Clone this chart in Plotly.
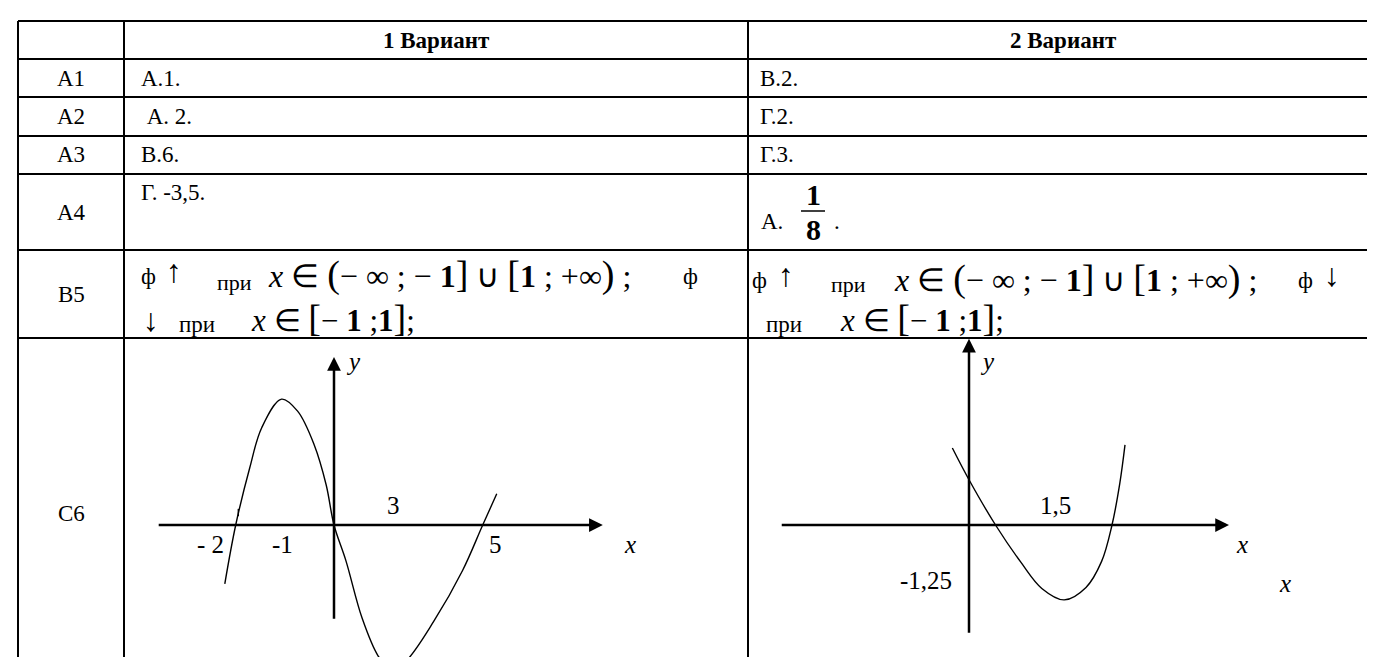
import plotly.graph_objects as go

W, H = 1375, 657
FONT = "Times New Roman, Liberation Serif, serif"

# --- table text ---
row_labels = ["", "А1", "А2", "А3", "А4", "В5", "С6"]
variant1 = ["1 Вариант", "А.1.", " А. 2.", "В.6.", "Г. -3,5."]
variant2 = ["2 Вариант", "В.2.", "Г.2.", "Г.3.", "А."]
frac_num, frac_den = "1", "8"

# --- graph 1 (variant 1) ---
g1_x = [-2.10, -1.89, -1.62, -1.39, -1.01, -0.70, -0.38, -0.15, 0.00,
        0.23, 0.54, 0.85, 1.10, 1.38, 1.92, 2.47, 2.86, 3.13]
g1_y = [-1.13, 0.00, 1.10, 1.87, 2.42, 2.19, 1.54, 0.77, 0.00,
        -0.69, -1.79, -2.52, -2.79, -2.62, -1.85, -0.88, 0.00, 0.60]
g1_xaxis = [-3.40, 5.17]
g1_yaxis = [-1.83, 3.23]
g1_labels = ["- 2", "-1", "3", "5", "<i>x</i>", "<i>y</i>"]
g1_label_x = [-2.37, -1.00, 1.15, 3.10, 5.70, 0.37]
g1_label_y = [-0.38, -0.38, 0.37, -0.38, -0.38, 3.15]

# --- graph 2 (variant 2) ---
g2_x = [-0.32, 0.00, 0.51, 1.00, 1.40, 1.83, 2.25, 2.55, 2.75, 2.90, 3.00]
g2_y = [1.48, 0.87, 0.00, -0.72, -1.22, -1.44, -1.20, -0.70, 0.00, 0.80, 1.54]
g2_xaxis = [-3.63, 5.00]
g2_yaxis = [-2.10, 3.58]
g2_labels = ["1,5", "<i>x</i>", "-1,25", "<i>x</i>", "<i>y</i>"]
g2_label_x = [1.67, 5.25, -0.83, 6.08, 0.35]
g2_label_y = [0.37, -0.38, -1.06, -1.12, 3.15]


def px(x):
    return x / W


def py(y):
    return 1 - y / H


# layout of the table (pixels)
row_edges = [13, 51, 89, 128, 166, 242, 330]
col_edges = [10, 116, 740]
row_mid = [32, 70, 108.5, 147, 204, 286, 505]
UNIT = 52
g1_origin = (326, 517)
g2_origin = (961, 517)

fig = go.Figure()

fig.add_trace(go.Scatter(x=g1_x, y=g1_y, mode="lines", line_shape="spline",
                         line=dict(color="black", width=1.4),
                         xaxis="x", yaxis="y", hoverinfo="skip"))
# small stroke on the curve near -2
fig.add_trace(go.Scatter(x=[-1.84, -1.84], y=[0.17, 0.31], mode="lines",
                         line=dict(color="black", width=1.4),
                         xaxis="x", yaxis="y", hoverinfo="skip"))
fig.add_trace(go.Scatter(x=g2_x, y=g2_y, mode="lines", line_shape="spline",
                         line=dict(color="black", width=1.4),
                         xaxis="x2", yaxis="y2", hoverinfo="skip"))

shapes = []
for y in row_edges:
    shapes.append(dict(type="line", xref="paper", yref="paper",
                       x0=px(col_edges[0]), x1=1, y0=py(y), y1=py(y),
                       line=dict(color="black", width=2)))
for x in col_edges:
    shapes.append(dict(type="line", xref="paper", yref="paper",
                       x0=px(x), x1=px(x), y0=py(row_edges[0]), y1=0,
                       line=dict(color="black", width=2)))
# fraction bar
shapes.append(dict(type="line", xref="paper", yref="paper",
                   x0=px(793), x1=px(817), y0=py(203), y1=py(203),
                   line=dict(color="black", width=1.5)))

ann = []


def text(t, x, y, size=23, anchor="left"):
    ann.append(dict(text=t, x=px(x), y=py(y), xref="paper", yref="paper",
                    xanchor=anchor, yanchor="middle", showarrow=False,
                    font=dict(family=FONT, size=size, color="black")))


for lab, ym in zip(row_labels, row_mid):
    text(lab, 63, ym, anchor="center")

text("<b>" + variant1[0] + "</b>", 428, 32, anchor="center")
text("<b>" + variant2[0] + "</b>", 1055, 32, anchor="center")
for i in range(1, 4):
    text(variant1[i], 131, row_mid[i])
    text(variant2[i], 750, row_mid[i])
text(variant1[4], 131, 184)
text(variant2[4], 751, 213)
text("<b>" + frac_num + "</b>", 805, 187, size=30, anchor="center")
text("<b>" + frac_den + "</b>", 805, 221, size=30, anchor="center")
text(".", 824, 213)


def br(c):
    return "<span style='font-size:38px'>" + c + "</span>"


math1 = ("<i>x</i> ∈ " + br("(") + "− ∞ ; − <b>1</b>" + br("]") + " ∪ "
         + br("[") + "<b>1</b> ; +∞" + br(")") + " ;")
math2 = "<i>x</i> ∈ " + br("[") + "− <b>1</b> ;<b>1</b>" + br("]") + ";"

# B5, variant 1
text("ф", 131, 268)
text("↑", 156, 263, size=32)
text("при", 207, 274, size=22)
text(math1, 258, 266, size=32)
text("ф", 673, 268)
text("↓", 133, 312, size=32)
text("при", 169, 316, size=23)
text(math2, 241, 310, size=31)
# B5, variant 2
text("ф", 742, 272)
text("↑", 768, 267, size=32)
text("при", 821, 276, size=22)
text(math1, 884, 270, size=32)
text("ф", 1288, 272)
text("↓", 1314, 267, size=32)
text("при", 756, 316, size=23)
text(math2, 830, 310, size=31)

# graph axes as arrows + labels
for xr, yr, xa, ya, labs, lx, ly in [
        ("x", "y", g1_xaxis, g1_yaxis, g1_labels, g1_label_x, g1_label_y),
        ("x2", "y2", g2_xaxis, g2_yaxis, g2_labels, g2_label_x, g2_label_y)]:
    ann.append(dict(x=xa[1], y=0, ax=xa[0], ay=0, xref=xr, yref=yr,
                    axref=xr, ayref=yr, text="", showarrow=True,
                    arrowhead=2, arrowsize=1.1, arrowwidth=2.5,
                    arrowcolor="black"))
    ann.append(dict(x=0, y=ya[1], ax=0, ay=ya[0], xref=xr, yref=yr,
                    axref=xr, ayref=yr, text="", showarrow=True,
                    arrowhead=2, arrowsize=1.1, arrowwidth=2.5,
                    arrowcolor="black"))
    for t, x, y in zip(labs, lx, ly):
        ann.append(dict(text=t, x=x, y=y, xref=xr, yref=yr, showarrow=False,
                        font=dict(family=FONT, size=25, color="black")))

cell_top = 1 - row_edges[-1] / H
fig.update_layout(
    width=W, height=H, margin=dict(l=0, r=0, t=0, b=0),
    paper_bgcolor="white", plot_bgcolor="white", showlegend=False,
    font=dict(family=FONT),
    shapes=shapes, annotations=ann,
    xaxis=dict(domain=[px(col_edges[1]), px(col_edges[2])], visible=False,
               range=[(col_edges[1] - g1_origin[0]) / UNIT,
                      (col_edges[2] - g1_origin[0]) / UNIT]),
    yaxis=dict(domain=[0, cell_top], visible=False, anchor="x",
               range=[(g1_origin[1] - H) / UNIT,
                      (g1_origin[1] - row_edges[-1]) / UNIT]),
    xaxis2=dict(domain=[px(col_edges[2]), 1], visible=False, anchor="y2",
                range=[(col_edges[2] - g2_origin[0]) / UNIT,
                       (W - g2_origin[0]) / UNIT]),
    yaxis2=dict(domain=[0, cell_top], visible=False, anchor="x2",
                range=[(g2_origin[1] - H) / UNIT,
                       (g2_origin[1] - row_edges[-1]) / UNIT]),
)

fig.write_html("out.html", config=dict(displayModeBar=False))
